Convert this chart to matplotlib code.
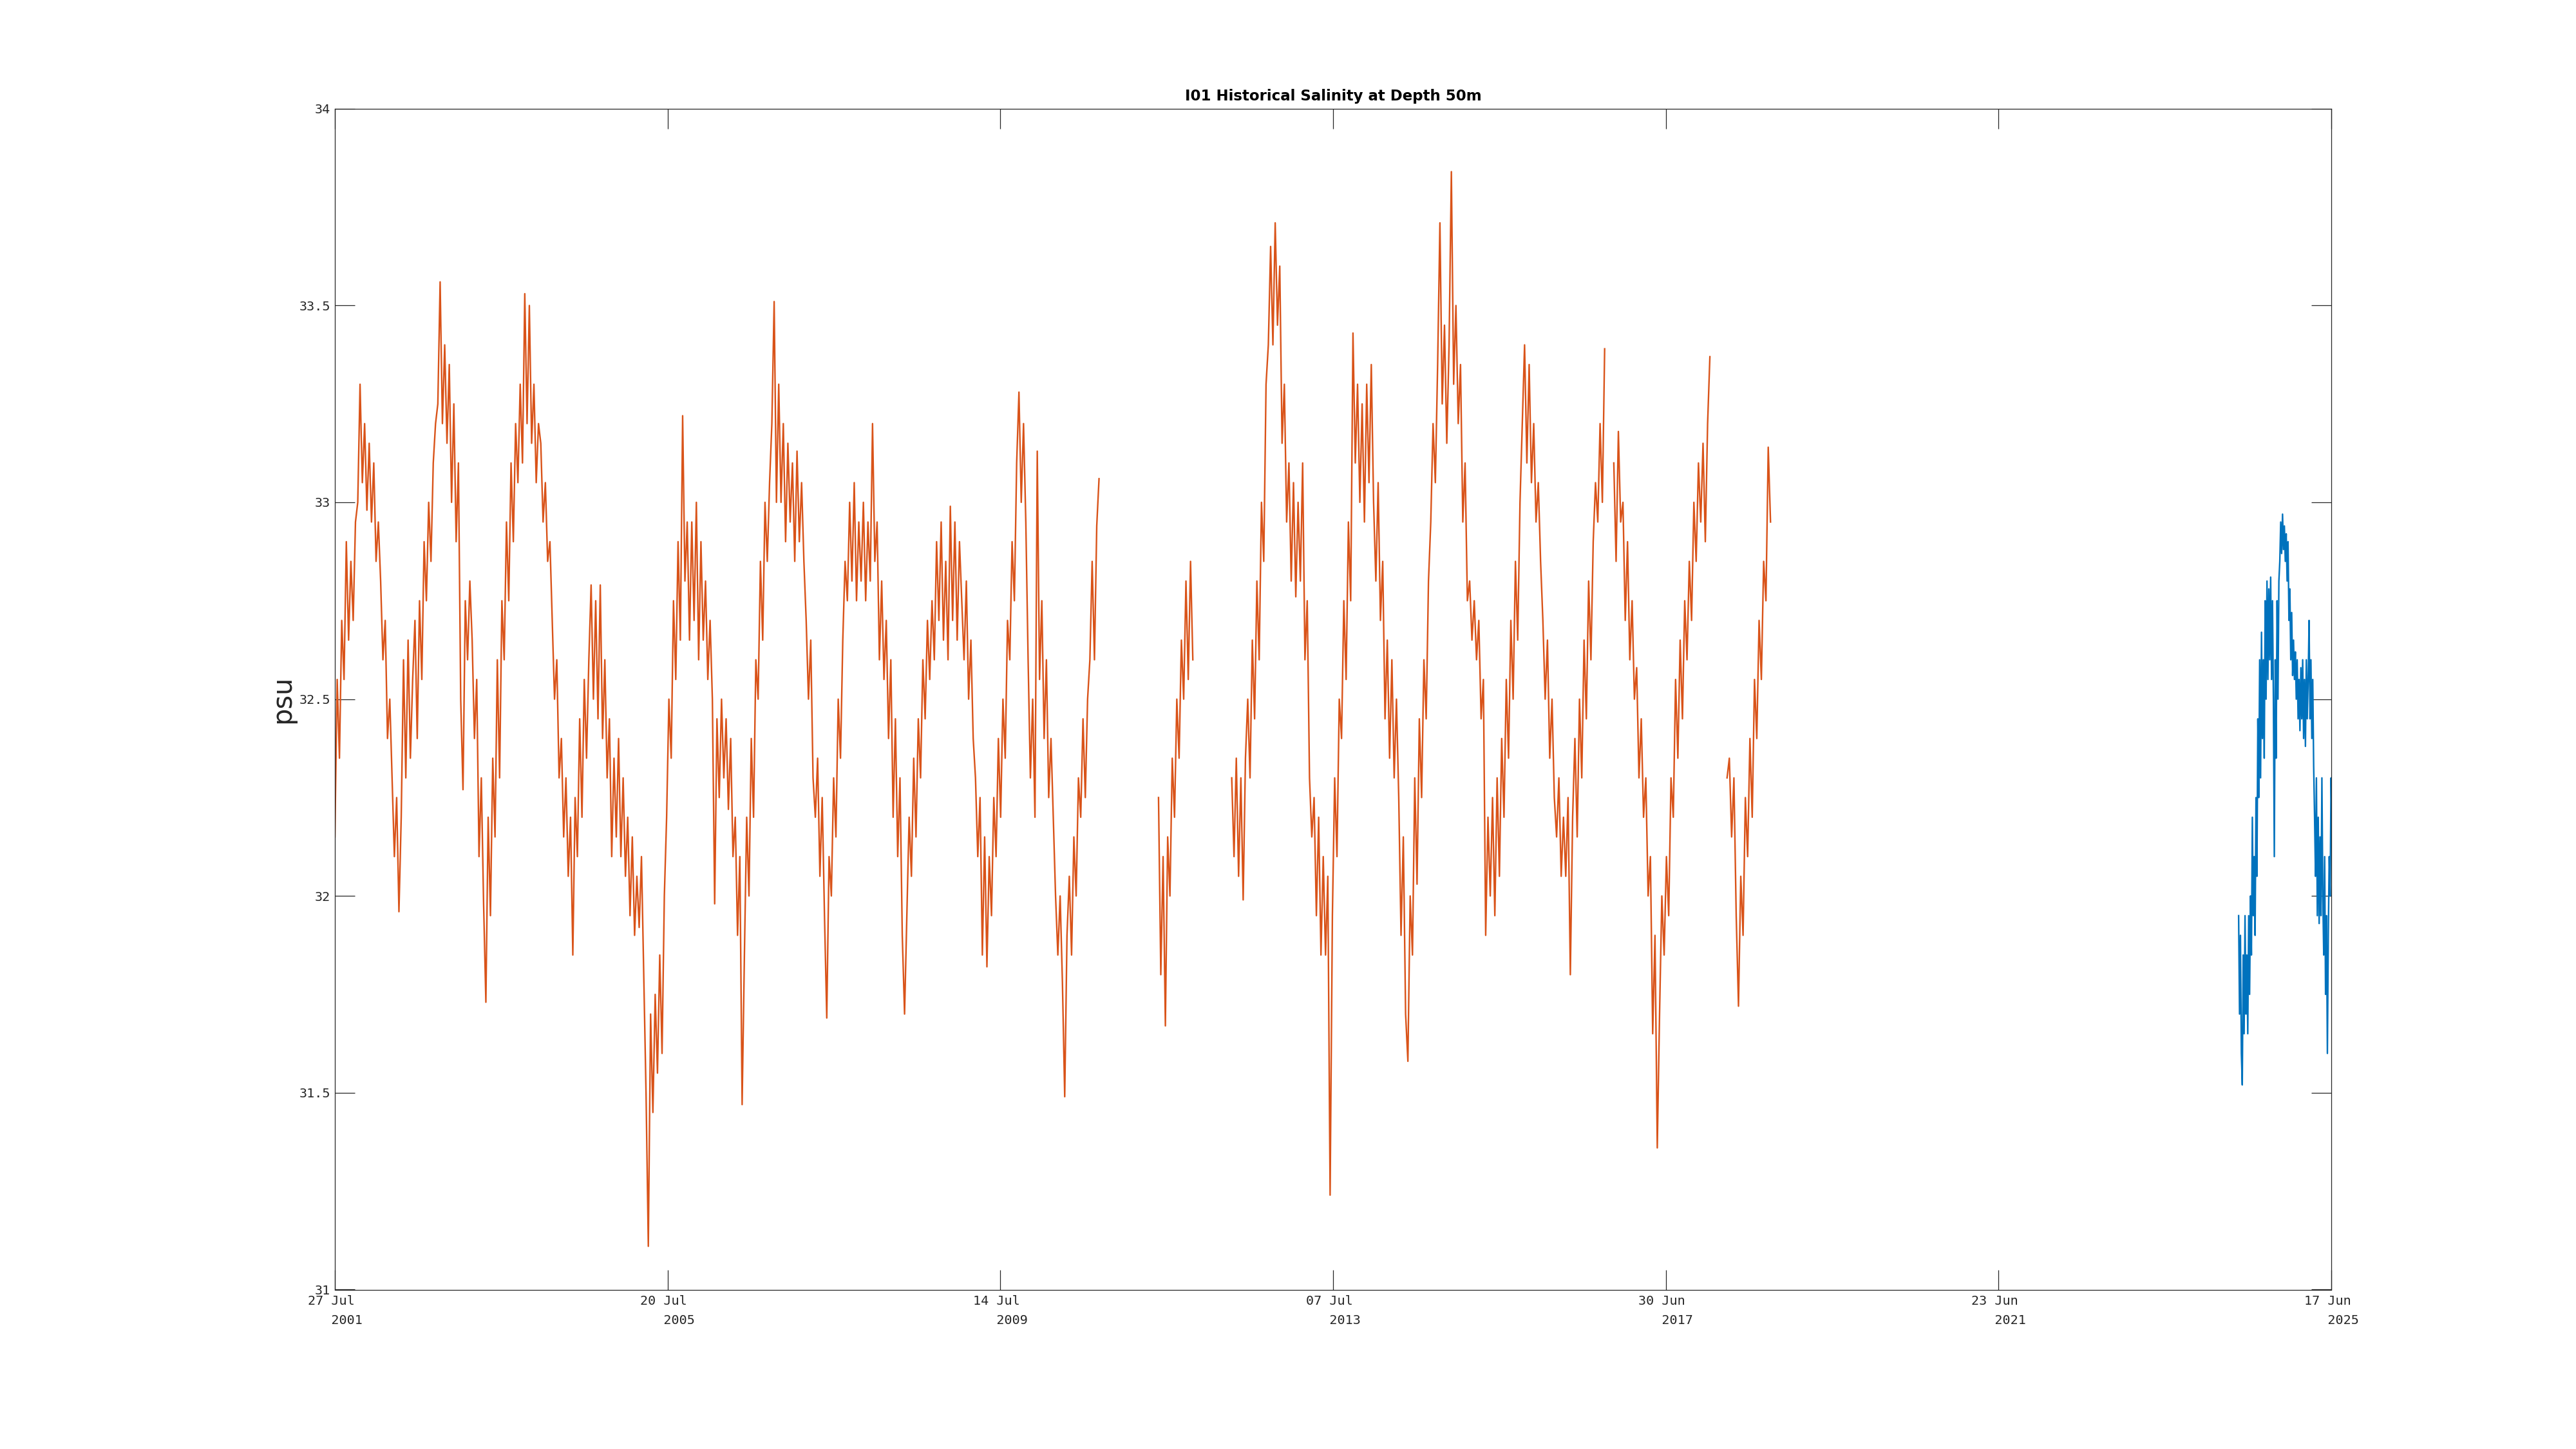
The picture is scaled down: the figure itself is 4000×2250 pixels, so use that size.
'''
I01 historical salinity at 50 m depth: old mooring record (orange) and recent record (blue).
Values read off the reference chart, in psu.
'''

import pandas as pd
import matplotlib
matplotlib.use('Agg')
import matplotlib.pyplot as plt

''' Data section '''

# historical record, one reading every 10 days, split where the record has gaps
hist_step_days = 10

hist_start_1 = '2001-07-27'
hist_sal_1 = [
    32.15, 32.55, 32.35, 32.7, 32.55, 32.9, 32.65, 32.85, 32.7, 32.95,
    33.0, 33.3, 33.05, 33.2, 32.98, 33.15, 32.95, 33.1, 32.85, 32.95,
    32.8, 32.6, 32.7, 32.4, 32.5, 32.3, 32.1, 32.25, 31.96, 32.2,
    32.6, 32.3, 32.65, 32.35, 32.55, 32.7, 32.4, 32.75, 32.55, 32.9,
    32.75, 33.0, 32.85, 33.1, 33.2, 33.25, 33.56, 33.2, 33.4, 33.15,
    33.35, 33.0, 33.25, 32.9, 33.1, 32.5, 32.27, 32.75, 32.6, 32.8,
    32.65, 32.4, 32.55, 32.1, 32.3, 31.98, 31.73, 32.2, 31.95, 32.35,
    32.15, 32.6, 32.3, 32.75, 32.6, 32.95, 32.75, 33.1, 32.9, 33.2,
    33.05, 33.3, 33.1, 33.53, 33.2, 33.5, 33.15, 33.3, 33.05, 33.2,
    33.15, 32.95, 33.05, 32.85, 32.9, 32.7, 32.5, 32.6, 32.3, 32.4,
    32.15, 32.3, 32.05, 32.2, 31.85, 32.25, 32.1, 32.45, 32.2, 32.55,
    32.35, 32.6, 32.79, 32.5, 32.75, 32.45, 32.79, 32.4, 32.6, 32.3,
    32.45, 32.1, 32.35, 32.15, 32.4, 32.1, 32.3, 32.05, 32.2, 31.95,
    32.15, 31.9, 32.05, 31.92, 32.1, 31.8, 31.5, 31.11, 31.7, 31.45,
    31.75, 31.55, 31.85, 31.6, 32.0, 32.2, 32.5, 32.35, 32.75, 32.55,
    32.9, 32.65, 33.22, 32.8, 32.95, 32.65, 32.95, 32.7, 33.0, 32.6,
    32.9, 32.65, 32.8, 32.55, 32.7, 32.5, 31.98, 32.45, 32.25, 32.5,
    32.3, 32.45, 32.22, 32.4, 32.1, 32.2, 31.9, 32.1, 31.47, 31.85,
    32.2, 32.0, 32.4, 32.2, 32.6, 32.5, 32.85, 32.65, 33.0, 32.85,
    33.05, 33.2, 33.51, 33.0, 33.3, 33.0, 33.2, 32.9, 33.15, 32.95,
    33.1, 32.85, 33.13, 32.9, 33.05, 32.85, 32.7, 32.5, 32.65, 32.3,
    32.2, 32.35, 32.05, 32.25, 31.95, 31.69, 32.1, 32.0, 32.3, 32.15,
    32.5, 32.35, 32.65, 32.85, 32.75, 33.0, 32.8, 33.05, 32.75, 32.95,
    32.8, 33.0, 32.75, 32.95, 32.8, 33.2, 32.85, 32.95, 32.6, 32.8,
    32.55, 32.7, 32.4, 32.6, 32.2, 32.45, 32.1, 32.3, 31.9, 31.7,
    31.95, 32.2, 32.05, 32.35, 32.15, 32.45, 32.3, 32.6, 32.45, 32.7,
    32.55, 32.75, 32.6, 32.9, 32.7, 32.95, 32.65, 32.85, 32.6, 32.99,
    32.7, 32.95, 32.65, 32.9, 32.75, 32.6, 32.8, 32.5, 32.65, 32.4,
    32.3, 32.1, 32.25, 31.85, 32.15, 31.82, 32.1, 31.95, 32.25, 32.1,
    32.4, 32.2, 32.5, 32.35, 32.7, 32.6, 32.9, 32.75, 33.1, 33.28,
    33.0, 33.2, 32.95, 32.6, 32.3, 32.5, 32.2, 33.13, 32.55, 32.75,
    32.4, 32.6, 32.25, 32.4, 32.2, 32.0, 31.85, 32.0, 31.78, 31.49,
    31.9, 32.05, 31.85, 32.15, 32.0, 32.3, 32.2, 32.45, 32.25, 32.5,
    32.6, 32.85, 32.6, 32.94, 33.06,
]

hist_start_2 = '2011-06-05'
hist_sal_2 = [
    32.25, 31.8, 32.1, 31.67, 32.15, 32.0, 32.35, 32.2, 32.5, 32.35,
    32.65, 32.5, 32.8, 32.55, 32.85, 32.6,
]

hist_start_3 = '2012-04-20'
hist_sal_3 = [
    32.3, 32.1, 32.35, 32.05, 32.3, 31.99, 32.35, 32.5, 32.3, 32.65,
    32.45, 32.8, 32.6, 33.0, 32.85, 33.3, 33.4, 33.65, 33.4, 33.71,
    33.45, 33.6, 33.15, 33.3, 32.95, 33.1, 32.8, 33.05, 32.76, 33.0,
    32.8, 33.1, 32.6, 32.75, 32.3, 32.15, 32.25, 31.95, 32.2, 31.85,
    32.1, 31.85, 32.05, 31.24, 31.95, 32.3, 32.1, 32.5, 32.4, 32.75,
    32.55, 32.95, 32.75, 33.43, 33.1, 33.3, 33.0, 33.25, 32.95, 33.3,
    33.05, 33.35, 33.0, 32.8, 33.05, 32.7, 32.85, 32.45, 32.65, 32.35,
    32.6, 32.3, 32.5, 32.25, 31.9, 32.15, 31.7, 31.58, 32.0, 31.85,
    32.3, 32.03, 32.45, 32.25, 32.6, 32.45, 32.8, 32.95, 33.2, 33.05,
    33.35, 33.71, 33.25, 33.45, 33.15, 33.4, 33.84, 33.3, 33.5, 33.2,
    33.35, 32.95, 33.1, 32.75, 32.8, 32.65, 32.75, 32.6, 32.7, 32.45,
    32.55, 31.9, 32.2, 32.0, 32.25, 31.95, 32.3, 32.05, 32.4, 32.2,
    32.55, 32.35, 32.7, 32.5, 32.85, 32.65, 33.0, 33.2, 33.4, 33.1,
    33.35, 33.05, 33.2, 32.95, 33.05, 32.85, 32.7, 32.5, 32.65, 32.35,
    32.5, 32.25, 32.15, 32.3, 32.05, 32.2, 32.05, 32.25, 31.8, 32.2,
    32.4, 32.15, 32.5, 32.3, 32.65, 32.45, 32.8, 32.6, 32.9, 33.05,
    32.95, 33.2, 33.0, 33.39,
]

hist_start_4 = '2016-11-15'
hist_sal_4 = [
    33.1, 32.85, 33.18, 32.95, 33.0, 32.7, 32.9, 32.6, 32.75, 32.5,
    32.58, 32.3, 32.45, 32.2, 32.3, 32.0, 32.1, 31.65, 31.9, 31.36,
    31.7, 32.0, 31.85, 32.1, 31.95, 32.3, 32.2, 32.55, 32.35, 32.65,
    32.45, 32.75, 32.6, 32.85, 32.7, 33.0, 32.85, 33.1, 32.95, 33.15,
    32.9, 33.2, 33.37,
]

hist_start_5 = '2018-03-25'
hist_sal_5 = [
    32.3, 32.35, 32.15, 32.3, 31.95, 31.72, 32.05, 31.9, 32.25, 32.1,
    32.4, 32.2, 32.55, 32.4, 32.7, 32.55, 32.85, 32.75, 33.14, 32.95,
]

# recent record, one reading every 4 days
recent_step_days = 4
recent_start = '2024-05-08'
recent_sal = [
    31.95, 31.7, 31.9, 31.6, 31.52, 31.85, 31.65, 31.95, 31.7, 31.85,
    31.65, 31.95, 31.75, 32.0, 31.85, 32.2, 31.95, 32.1, 31.9, 32.25,
    32.05, 32.45, 32.25, 32.6, 32.3, 32.67, 32.4, 32.6, 32.35, 32.75,
    32.5, 32.8, 32.55, 32.78, 32.6, 32.81, 32.55, 32.75, 32.5, 32.1,
    32.6, 32.35, 32.75, 32.5, 32.8, 32.85, 32.95, 32.87, 32.97, 32.88,
    32.94, 32.85, 32.92, 32.8, 32.9, 32.7, 32.78, 32.6, 32.72, 32.56,
    32.65, 32.55, 32.62, 32.5, 32.6, 32.45, 32.55, 32.42, 32.58, 32.45,
    32.6, 32.4, 32.55, 32.38, 32.6, 32.45, 32.55, 32.7, 32.45, 32.6,
    32.4, 32.55, 32.33, 32.2, 32.05, 32.3, 31.95, 32.2, 31.93, 32.15,
    31.95, 32.3, 32.0, 31.85, 32.1, 31.75, 31.95, 31.6, 31.9, 32.1,
    32.0, 32.3, 32.15,
]

# axis setup
x_start = '2001-07-27'
x_end = '2025-06-17'
tick_dates = ['2001-07-27', '2005-07-20', '2009-07-14', '2013-07-07',
              '2017-06-30', '2021-06-23', '2025-06-17']
tick_labels = ['27 Jul\n   2001', '20 Jul\n   2005', '14 Jul\n   2009', '07 Jul\n   2013',
               '30 Jun\n   2017', '23 Jun\n   2021', '17 Jun\n   2025']
y_ticks = [31, 31.5, 32, 32.5, 33, 33.5, 34]
y_tick_labels = ['31', '31.5', '32', '32.5', '33', '33.5', '34']

title = 'I01 Historical Salinity at Depth 50m'
ylabel = 'psu'

''' Plot section '''

hist_color = '#D95319'
recent_color = '#0072BD'
ink = '#262626'

fig = plt.figure(figsize=(40, 22.5), dpi=100)
ax = fig.add_axes([0.13, 0.11, 0.775, 0.815])

hist_segments = [(hist_start_1, hist_sal_1), (hist_start_2, hist_sal_2), (hist_start_3, hist_sal_3),
                 (hist_start_4, hist_sal_4), (hist_start_5, hist_sal_5)]
for start, sal in hist_segments:
    dates = pd.date_range(start, periods=len(sal), freq=str(hist_step_days) + 'D')
    ax.plot(dates, sal, color=hist_color, linewidth=1.7)

recent_dates = pd.date_range(recent_start, periods=len(recent_sal), freq=str(recent_step_days) + 'D')
ax.plot(recent_dates, recent_sal, color=recent_color, linewidth=1.7)

ax.set_xlim(pd.Timestamp(x_start), pd.Timestamp(x_end))
ax.set_ylim(31, 34)

ax.set_xticks([pd.Timestamp(d) for d in tick_dates])
ax.set_xticklabels(tick_labels, family='DejaVu Sans Mono', fontsize=14.5, color=ink, linespacing=1.75)
for t in ax.get_xticklabels():
    t.set_multialignment('left')
ax.set_yticks(y_ticks)
ax.set_yticklabels(y_tick_labels, family='DejaVu Sans Mono', fontsize=14.5, color=ink)

ax.tick_params(direction='in', length=22, width=0.9, color=ink, top=True, right=True)
ax.tick_params(axis='x', pad=6)
ax.tick_params(axis='y', pad=5)
for s in ax.spines.values():
    s.set_color(ink)
    s.set_linewidth(0.9)

ax.set_title(title, fontsize=16.5, fontweight='bold', pad=9)
ax.set_ylabel(ylabel, fontsize=30, color=ink)
ax.yaxis.set_label_coords(-0.0197, 0.5)

plt.savefig('out.png', dpi=100)
